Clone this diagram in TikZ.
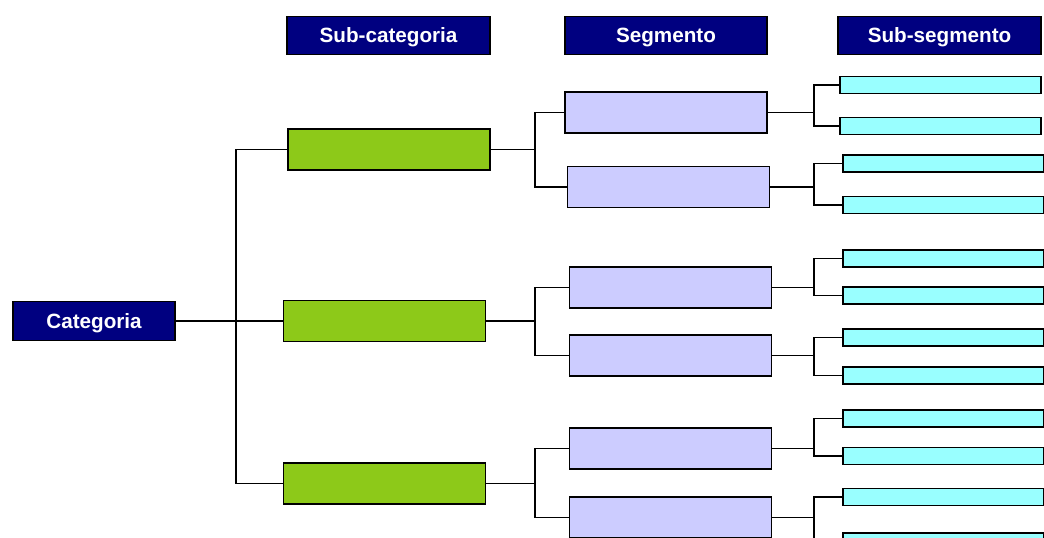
\documentclass[tikz,border=0pt]{standalone}
\usepackage{fontspec}
\setmainfont{Liberation Sans}
\definecolor{headnavy}{RGB}{0,0,128}
\definecolor{subgreen}{RGB}{141,201,25}
\definecolor{seglilac}{RGB}{204,204,255}
\definecolor{subcyan}{RGB}{153,255,255}
\begin{document}
\begin{tikzpicture}[x=0.75pt,y=-0.75pt,line width=1.4pt]
  \tikzstyle{head}=[draw, fill=headnavy, text=white, inner sep=0pt, minimum width=152pt, minimum height=28.5pt,
    text depth=0pt, font=\fontsize{15.5}{18}\selectfont\bfseries]
  \tikzstyle{subbox}=[draw, fill=subgreen, inner sep=0pt, minimum width=151.5pt, minimum height=30.75pt]
  \tikzstyle{segbox}=[draw, fill=seglilac, inner sep=0pt, minimum width=151.5pt, minimum height=30.75pt]
  \tikzstyle{leafbox}=[draw, fill=subcyan, inner sep=0pt, minimum width=150.75pt, minimum height=12.75pt]

  \useasboundingbox (0,0) rectangle (1044,537);
  \clip (0,0) rectangle (1044,537);

  % Column headers
  \node[head] (hsub) at (388.5,35.5) {Sub-categoria};
  \node[head] (hseg) at (666,35.5) {Segmento};
  \node[head] (hsubseg) at (939.5,35.5) {Sub-segmento};
  \node[head, minimum width=121.5pt, minimum height=29.25pt] (cat) at (94,321) {Categoria};

  % Sub-categories
  \node[subbox] (sc1) at (389,149.5) {};
  \node[subbox] (sc2) at (384.5,321) {};
  \node[subbox] (sc3) at (384.5,483.5) {};

  % Segments
  \node[segbox] (sg1) at (666,112.5) {};
  \node[segbox] (sg2) at (668.5,187) {};
  \node[segbox] (sg3) at (670.5,287.5) {};
  \node[segbox] (sg4) at (670.5,355.5) {};
  \node[segbox] (sg5) at (670.5,448.5) {};
  \node[segbox] (sg6) at (670.5,517.5) {};

  % Sub-segments
  \node[leafbox] (ss1) at (940.5,85) {};
  \node[leafbox] (ss2) at (940.5,126) {};
  \node[leafbox] (ss3) at (943.5,163.5) {};
  \node[leafbox] (ss4) at (943.5,205) {};
  \node[leafbox] (ss5) at (943.5,258.5) {};
  \node[leafbox] (ss6) at (943.5,295.5) {};
  \node[leafbox] (ss7) at (943.5,337.5) {};
  \node[leafbox] (ss8) at (943.5,375.5) {};
  \node[leafbox] (ss9) at (943.5,418.5) {};
  \node[leafbox] (ss10) at (943.5,456) {};
  \node[leafbox] (ss11) at (943.5,497) {};
  \node[leafbox] (ss12) at (943.5,541.5) {};

  % Fork columns
  \coordinate (trunk) at (236,321);
  \coordinate (segx) at (535,0);
  \coordinate (leafx) at (814,0);

  % Category -> sub-categories
  \draw (cat.east) -- (sc2.west);
  \draw (sc1.west) -| (trunk) |- (sc3.west);

  % Sub-categories -> segments
  \draw (sc1.east) -- (sc1.east -| segx);
  \draw (sg1.west) -| (segx |- sg1.west) |- (sg2.west);
  \draw (sc2.east) -- (sc2.east -| segx);
  \draw (sg3.west) -| (segx |- sg3.west) |- (sg4.west);
  \draw (sc3.east) -- (sc3.east -| segx);
  \draw (sg5.west) -| (segx |- sg5.west) |- (sg6.west);

  % Segments -> sub-segments
  \draw (sg1.east) -- (sg1.east -| leafx);
  \draw (ss1.west) -| (leafx |- ss1.west) |- (ss2.west);
  \draw (sg2.east) -- (sg2.east -| leafx);
  \draw (ss3.west) -| (leafx |- ss3.west) |- (ss4.west);
  \draw (sg3.east) -- (sg3.east -| leafx);
  \draw (ss5.west) -| (leafx |- ss5.west) |- (ss6.west);
  \draw (sg4.east) -- (sg4.east -| leafx);
  \draw (ss7.west) -| (leafx |- ss7.west) |- (ss8.west);
  \draw (sg5.east) -- (sg5.east -| leafx);
  \draw (ss9.west) -| (leafx |- ss9.west) |- (ss10.west);
  \draw (sg6.east) -- (sg6.east -| leafx);
  \draw (ss11.west) -| (leafx |- ss11.west) |- (ss12.west);
\end{tikzpicture}
\end{document}
